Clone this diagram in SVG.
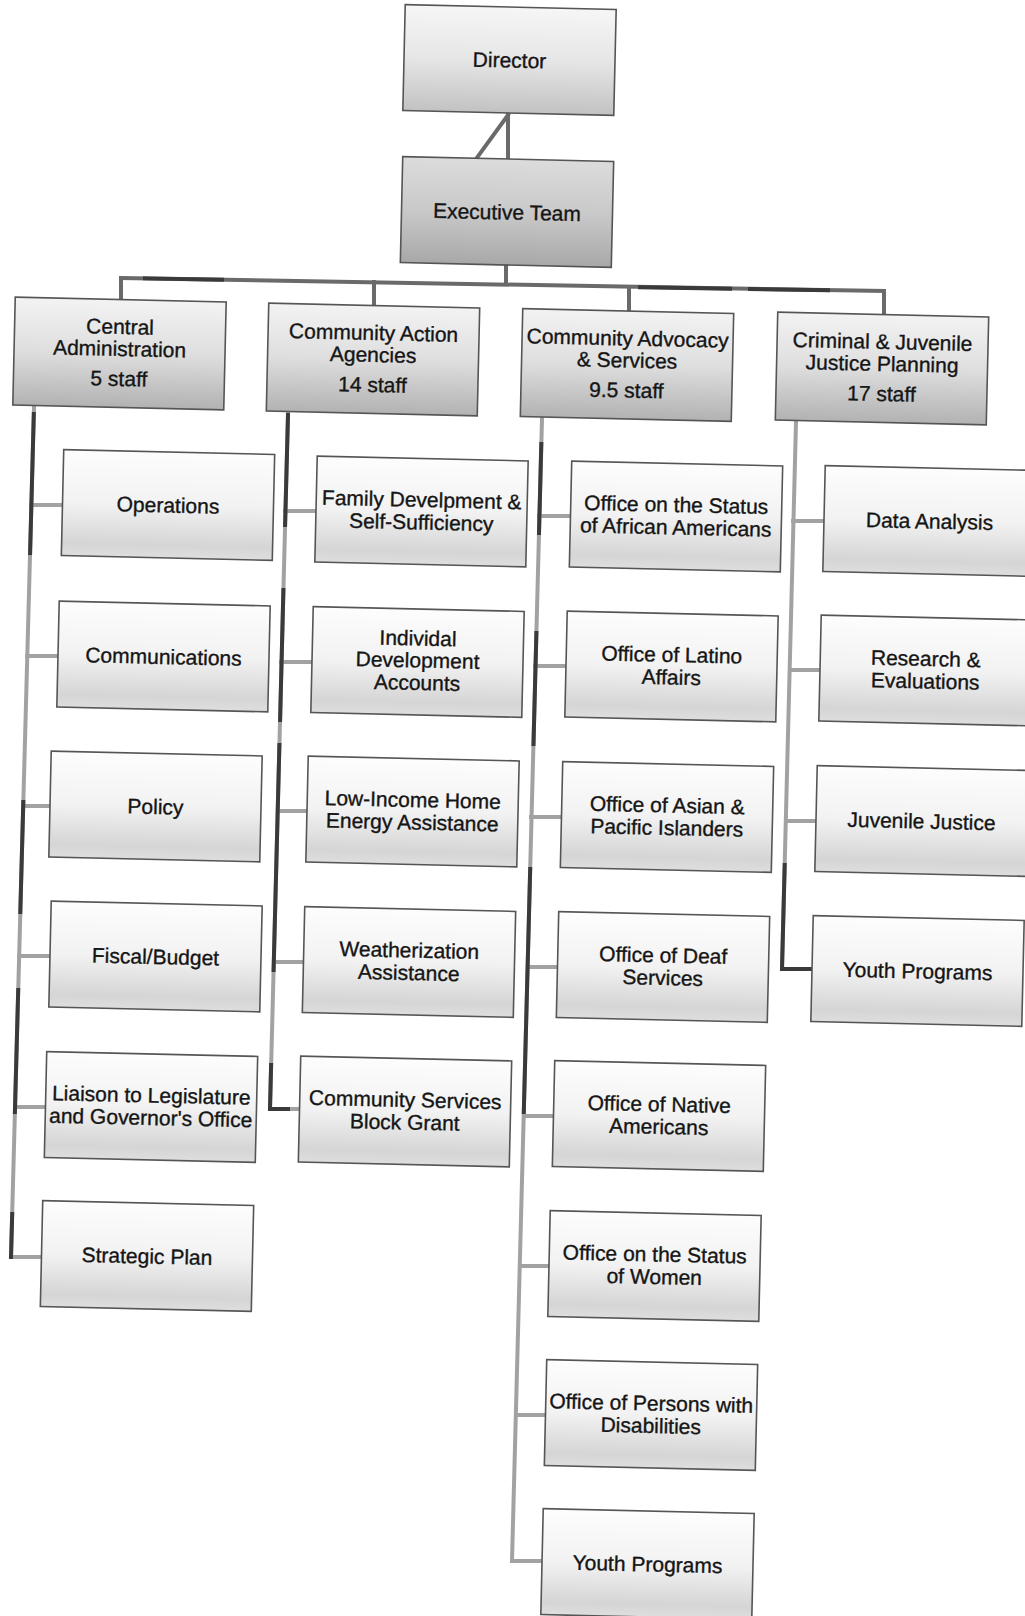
<svg xmlns="http://www.w3.org/2000/svg" width="1025" height="1616" viewBox="0 0 1025 1616">
<defs>
<linearGradient id="gChild" x1="0" y1="0" x2="0" y2="1">
<stop offset="0" stop-color="#fdfdfd"/><stop offset="0.5" stop-color="#f2f2f2"/><stop offset="0.88" stop-color="#d5d5d5"/><stop offset="1" stop-color="#dedede"/>
</linearGradient>
<linearGradient id="gTop" x1="0" y1="0" x2="0" y2="1">
<stop offset="0" stop-color="#f3f3f3"/><stop offset="0.5" stop-color="#dedede"/><stop offset="1" stop-color="#b2b2b2"/>
</linearGradient>
<linearGradient id="gDir" x1="0" y1="0" x2="0" y2="1">
<stop offset="0" stop-color="#f6f6f6"/><stop offset="0.5" stop-color="#e6e6e6"/><stop offset="1" stop-color="#c2c2c2"/>
</linearGradient>
<linearGradient id="gExec" x1="0" y1="0" x2="0" y2="1">
<stop offset="0" stop-color="#dcdcdc"/><stop offset="0.5" stop-color="#c9c9c9"/><stop offset="1" stop-color="#a8a8a8"/>
</linearGradient>
</defs>
<style>
.box{stroke:#555;stroke-width:1.6}
.child{fill:url(#gChild)}
.top{fill:url(#gTop)}
text{font-family:"Liberation Sans",Arial,sans-serif;font-size:21px;fill:#151515;stroke:#151515;stroke-width:0.35;text-anchor:middle}
.conn line,.conn polyline{stroke:#a2a2a2;stroke-width:4;fill:none;stroke-linecap:square}
.conn .dk{stroke:#3a3a3a}
.conn .md{stroke:#6a6a6a}
</style>
<rect width="1025" height="1616" fill="#ffffff"/>

<g id="connectors" class="conn">
<line class="md" x1="508" y1="113" x2="508" y2="159"/>
<line class="md" x1="508" y1="115" x2="476" y2="159"/>
<line class="md" x1="506" y1="266" x2="506" y2="284"/>
<line class="md" x1="121" y1="278" x2="884" y2="291"/>
<line class="dk" x1="145" y1="278.4" x2="222" y2="279.7"/>
<line class="dk" x1="640" y1="287.2" x2="730" y2="288.7"/>
<line class="dk" x1="750" y1="289" x2="828" y2="290.3"/>
<line class="md" x1="121" y1="278" x2="121" y2="300"/>
<line class="md" x1="374" y1="282" x2="374" y2="307"/>
<line class="md" x1="629" y1="287" x2="629" y2="312"/>
<line class="md" x1="884" y1="291" x2="884" y2="316"/>
<!-- column 1 -->
<polyline points="34,408 11,1257 41,1257"/>
<line x1="31" y1="505" x2="62" y2="505"/>
<line x1="27" y1="656" x2="58" y2="656"/>
<line x1="23" y1="806" x2="50" y2="806"/>
<line x1="19" y1="956" x2="50" y2="956"/>
<line x1="15" y1="1107" x2="45" y2="1107"/>
<line class="dk" x1="33.8" y1="414" x2="30.1" y2="553"/>
<line class="dk" x1="23.3" y1="802" x2="20.3" y2="912"/>
<line class="dk" x1="18.2" y1="990" x2="14.9" y2="1112"/>
<line class="dk" x1="12.2" y1="1214" x2="11" y2="1257"/>
<!-- column 2 -->
<polyline points="288,413 270,1109 299,1109"/>
<line x1="285" y1="511" x2="316" y2="511"/>
<line x1="281" y1="662" x2="312" y2="662"/>
<line x1="278" y1="811" x2="307" y2="811"/>
<line x1="274" y1="962" x2="303" y2="962"/>
<line class="dk" x1="288" y1="415" x2="285.1" y2="525"/>
<line class="dk" x1="283.4" y1="590" x2="280.1" y2="720"/>
<line class="dk" x1="279.4" y1="745" x2="273.6" y2="970"/>
<polyline class="dk" points="271.1,1065 270,1109 288,1109"/>
<!-- column 3 -->
<polyline points="542,419 512,1561 542,1561"/>
<line x1="539" y1="516" x2="570" y2="516"/>
<line x1="535" y1="666" x2="566" y2="666"/>
<line x1="531" y1="817" x2="561" y2="817"/>
<line x1="528" y1="967" x2="557" y2="967"/>
<line x1="524" y1="1116" x2="553" y2="1116"/>
<line x1="520" y1="1266" x2="549" y2="1266"/>
<line x1="516" y1="1415" x2="545" y2="1415"/>
<line class="dk" x1="541.3" y1="444" x2="539" y2="533"/>
<line class="dk" x1="536.4" y1="633" x2="533.5" y2="744"/>
<line class="dk" x1="530.2" y1="869" x2="523.8" y2="1112"/>
<!-- column 4 -->
<polyline points="796,422 782,969 812,969"/>
<line x1="793" y1="521" x2="824" y2="521"/>
<line x1="790" y1="670" x2="820" y2="670"/>
<line x1="786" y1="821" x2="816" y2="821"/>
<polyline class="dk" points="784.7,865 782,969 810,969"/>
</g>

<g id="director" transform="translate(509.5,60) rotate(1.3)">
<rect class="box" x="-105.5" y="-53" width="211" height="106" fill="url(#gDir)"/>
<text y="7.5">Director</text>
</g>
<g id="executive-team" transform="translate(507,212) rotate(1.3)">
<rect class="box" x="-105.5" y="-53" width="211" height="106" fill="url(#gExec)"/>
<text y="7.5">Executive Team</text>
</g>

<g id="central-administration" transform="translate(119.5,353.5) rotate(1.3)">
<rect class="box top" x="-105.5" y="-54" width="211" height="108"/>
<text y="-19.5">Central</text><text y="2.5">Administration</text><text y="32.5">5 staff</text>
</g>
<g id="community-action-agencies" transform="translate(373,359.5) rotate(1.3)">
<rect class="box top" x="-105.5" y="-54" width="211" height="108"/>
<text y="-19.5">Community Action</text><text y="2.5">Agencies</text><text y="32.5">14 staff</text>
</g>
<g id="community-advocacy-services" transform="translate(627,365) rotate(1.3)">
<rect class="box top" x="-105.5" y="-54" width="211" height="108"/>
<text y="-19.5">Community Advocacy</text><text y="2.5">&amp; Services</text><text y="32.5">9.5 staff</text>
</g>
<g id="criminal-juvenile-justice-planning" transform="translate(882,368.5) rotate(1.3)">
<rect class="box top" x="-105.5" y="-54" width="211" height="108"/>
<text y="-19.5">Criminal &amp; Juvenile</text><text y="2.5">Justice Planning</text><text y="32.5">17 staff</text>
</g>

<!-- column 1 children -->
<g id="operations" transform="translate(168,505) rotate(1.3)">
<rect class="box child" x="-105.5" y="-53" width="211" height="106"/>
<text y="7.5">Operations</text>
</g>
<g id="communications" transform="translate(163.5,656.5) rotate(1.3)">
<rect class="box child" x="-105.5" y="-53" width="211" height="106"/>
<text y="7.5">Communications</text>
</g>
<g id="policy" transform="translate(155.5,806.5) rotate(1.3)">
<rect class="box child" x="-105.5" y="-53" width="211" height="106"/>
<text y="7.5">Policy</text>
</g>
<g id="fiscal-budget" transform="translate(155.5,956.5) rotate(1.3)">
<rect class="box child" x="-105.5" y="-53" width="211" height="106"/>
<text y="7.5">Fiscal/Budget</text>
</g>
<g id="liaison" transform="translate(151,1107) rotate(1.3)">
<rect class="box child" x="-105.5" y="-53" width="211" height="106"/>
<text y="-4.5">Liaison to Legislature</text><text y="18">and Governor's Office</text>
</g>
<g id="strategic-plan" transform="translate(147,1256) rotate(1.3)">
<rect class="box child" x="-105.5" y="-53" width="211" height="106"/>
<text y="7.5">Strategic Plan</text>
</g>

<!-- column 2 children -->
<g id="family-development" transform="translate(421.5,511.5) rotate(1.3)">
<rect class="box child" x="-105.5" y="-53" width="211" height="106"/>
<text y="-4.5">Family Develpment &amp;</text><text y="18">Self-Sufficiency</text>
</g>
<g id="individual-development-accounts" transform="translate(417.5,662) rotate(1.3)">
<rect class="box child" x="-105.5" y="-53" width="211" height="106"/>
<text y="-16.5">Individal</text><text y="5.5">Development</text><text y="28">Accounts</text>
</g>
<g id="liheap" transform="translate(412.5,811.5) rotate(1.3)">
<rect class="box child" x="-105.5" y="-53" width="211" height="106"/>
<text y="-4.5">Low-Income Home</text><text y="18">Energy Assistance</text>
</g>
<g id="weatherization" transform="translate(409,962) rotate(1.3)">
<rect class="box child" x="-105.5" y="-53" width="211" height="106"/>
<text y="-4.5">Weatherization</text><text y="18">Assistance</text>
</g>
<g id="csbg" transform="translate(405,1111.5) rotate(1.3)">
<rect class="box child" x="-105.5" y="-53" width="211" height="106"/>
<text y="-4.5">Community Services</text><text y="18">Block Grant</text>
</g>

<!-- column 3 children -->
<g id="african-americans" transform="translate(676,516.5) rotate(1.3)">
<rect class="box child" x="-105.5" y="-53" width="211" height="106"/>
<text y="-4.5">Office on the Status</text><text y="18">of African Americans</text>
</g>
<g id="latino-affairs" transform="translate(671.5,666.5) rotate(1.3)">
<rect class="box child" x="-105.5" y="-53" width="211" height="106"/>
<text y="-4.5">Office of Latino</text><text y="18">Affairs</text>
</g>
<g id="asian-pacific" transform="translate(667,817) rotate(1.3)">
<rect class="box child" x="-105.5" y="-53" width="211" height="106"/>
<text y="-4.5">Office of Asian &amp;</text><text y="18">Pacific Islanders</text>
</g>
<g id="deaf-services" transform="translate(663,967) rotate(1.3)">
<rect class="box child" x="-105.5" y="-53" width="211" height="106"/>
<text y="-4.5">Office of Deaf</text><text y="18">Services</text>
</g>
<g id="native-americans" transform="translate(659,1116) rotate(1.3)">
<rect class="box child" x="-105.5" y="-53" width="211" height="106"/>
<text y="-4.5">Office of Native</text><text y="18">Americans</text>
</g>
<g id="status-of-women" transform="translate(654.5,1266) rotate(1.3)">
<rect class="box child" x="-105.5" y="-53" width="211" height="106"/>
<text y="-4.5">Office on the Status</text><text y="18">of Women</text>
</g>
<g id="persons-with-disabilities" transform="translate(651,1415) rotate(1.3)">
<rect class="box child" x="-105.5" y="-53" width="211" height="106"/>
<text y="-4.5">Office of Persons with</text><text y="18">Disabilities</text>
</g>
<g id="youth-programs-cas" transform="translate(647.5,1564) rotate(1.3)">
<rect class="box child" x="-105.5" y="-53" width="211" height="106"/>
<text y="7.5">Youth Programs</text>
</g>

<!-- column 4 children -->
<g id="data-analysis" transform="translate(929.5,521) rotate(1.3)">
<rect class="box child" x="-105.5" y="-53" width="211" height="106"/>
<text y="7.5">Data Analysis</text>
</g>
<g id="research-evaluations" transform="translate(925.5,670.5) rotate(1.3)">
<rect class="box child" x="-105.5" y="-53" width="211" height="106"/>
<text y="-4.5">Research &amp;</text><text y="18">Evaluations</text>
</g>
<g id="juvenile-justice" transform="translate(921.5,821) rotate(1.3)">
<rect class="box child" x="-105.5" y="-53" width="211" height="106"/>
<text y="7.5">Juvenile Justice</text>
</g>
<g id="youth-programs-cjjp" transform="translate(917.5,971) rotate(1.3)">
<rect class="box child" x="-105.5" y="-53" width="211" height="106"/>
<text y="7.5">Youth Programs</text>
</g>
</svg>
